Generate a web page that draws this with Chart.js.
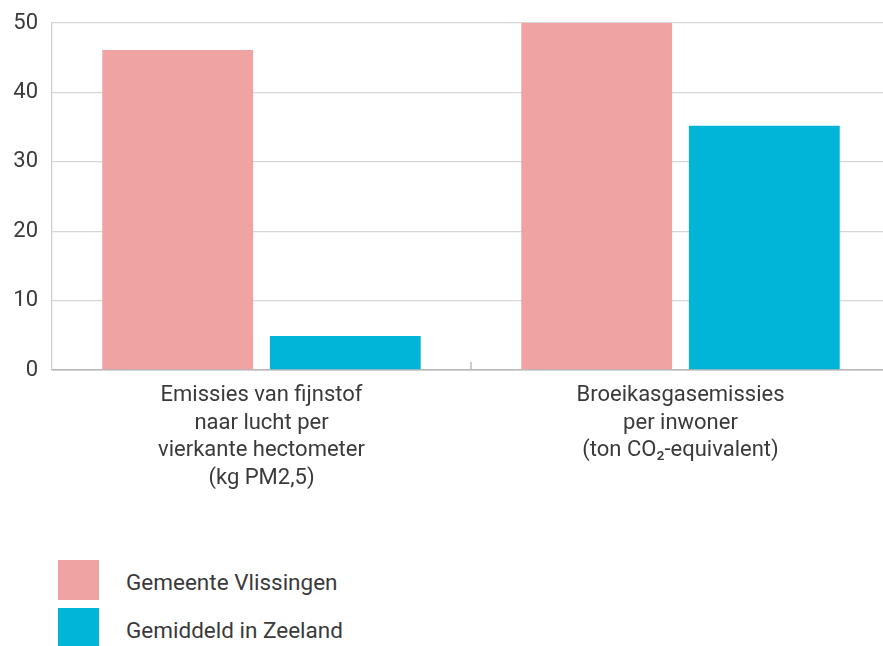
<!DOCTYPE html>
<html>
<head>
<meta charset="utf-8">
<script src="https://cdn.jsdelivr.net/npm/chart.js@4"></script>
<style>
  html, body { margin: 0; padding: 0; background: #fff; overflow: hidden; }
  #wrap { position: relative; width: 883px; height: 646px; overflow: hidden; }
  #box { position: absolute; left: 0; top: 0; width: 890px; height: 496px; }
  #legend { position: absolute; left: 58px; top: 556px; font-family: Roboto, sans-serif; font-size: 22.5px; color: #3a3a3a; }
  .item { display: flex; align-items: center; height: 48px; }
  .item span { position: relative; top: 2px; }
  .sw { width: 41px; height: 40px; margin-right: 27px; }
</style>
</head>
<body>
<div id="wrap">
  <div id="box"><canvas id="c" width="890" height="496"></canvas></div>
  <div id="legend"></div>
</div>
<script>
// Categories (multi-line axis labels)
const categories = [
  ["Emissies van fijnstof", "naar lucht per", "vierkante hectometer", "(kg PM2,5)"],
  ["Broeikasgasemissies", "per inwoner", "(ton CO\u2082-equivalent)"]
];
const seriesNames = ["Gemeente Vlissingen", "Gemiddeld in Zeeland"];
const vlissingen = [46.1, 50];
const zeeland = [4.9, 35.2];
const yTicks = [0, 10, 20, 30, 40, 50];

const colors = ["#EFA3A3", "#00B5D7"];
const textColor = "#3a3a3a";
const fontFamily = "Roboto, sans-serif";

// Small tick mark at the boundary between the two categories
const boundaryTick = {
  id: "boundaryTick",
  afterDraw(chart) {
    const x = chart.scales.x;
    const ctx = chart.ctx;
    const px = (x.getPixelForValue(0) + x.getPixelForValue(1)) / 2;
    const bottom = chart.chartArea.bottom;
    ctx.save();
    ctx.strokeStyle = "#bdbdbd";
    ctx.lineWidth = 1.5;
    ctx.beginPath();
    ctx.moveTo(px, bottom - 8);
    ctx.lineTo(px, bottom);
    ctx.stroke();
    ctx.restore();
  }
};

const chart = new Chart(document.getElementById("c"), {
  type: "bar",
  data: {
    labels: categories,
    datasets: [
      { label: seriesNames[0], data: vlissingen, backgroundColor: colors[0] },
      { label: seriesNames[1], data: zeeland, backgroundColor: colors[1] }
    ]
  },
  options: {
    responsive: false,
    animation: false,
    layout: { padding: { top: 23, right: 0, bottom: 0, left: 0 } },
    plugins: { legend: { display: false }, tooltip: { enabled: false } },
    datasets: { bar: { categoryPercentage: 0.8, barPercentage: 0.9 } },
    scales: {
      x: {
        grid: { display: false },
        border: { display: true, color: "#b8b8b8", width: 1.5 },
        ticks: {
          color: textColor,
          padding: 4,
          font: { family: fontFamily, size: 22, lineHeight: 1.25 },
          maxRotation: 0
        }
      },
      y: {
        min: 0,
        max: 50,
        afterFit(scale) {
          scale.width = 52;
          scale.paddingTop = 0;
          scale.paddingBottom = 0;
        },
        afterBuildTicks(scale) { scale.ticks = yTicks.map(v => ({ value: v })); },
        grid: {
          drawTicks: false,
          color: ctx => ctx.tick && ctx.tick.value === 0 ? "#b8b8b8" : "#d6d6d6",
          lineWidth: 1.3
        },
        border: { display: true, color: "#cfcfcf", width: 1.3 },
        ticks: {
          color: textColor,
          padding: 14,
          font: { family: fontFamily, size: 22 }
        }
      }
    }
  },
  plugins: [boundaryTick]
});

// Legend built from the chart's datasets
const legend = document.getElementById("legend");
chart.data.datasets.forEach(ds => {
  const item = document.createElement("div");
  item.className = "item";
  const sw = document.createElement("div");
  sw.className = "sw";
  sw.style.background = ds.backgroundColor;
  const label = document.createElement("span");
  label.textContent = ds.label;
  item.appendChild(sw);
  item.appendChild(label);
  legend.appendChild(item);
});
</script>
</body>
</html>
